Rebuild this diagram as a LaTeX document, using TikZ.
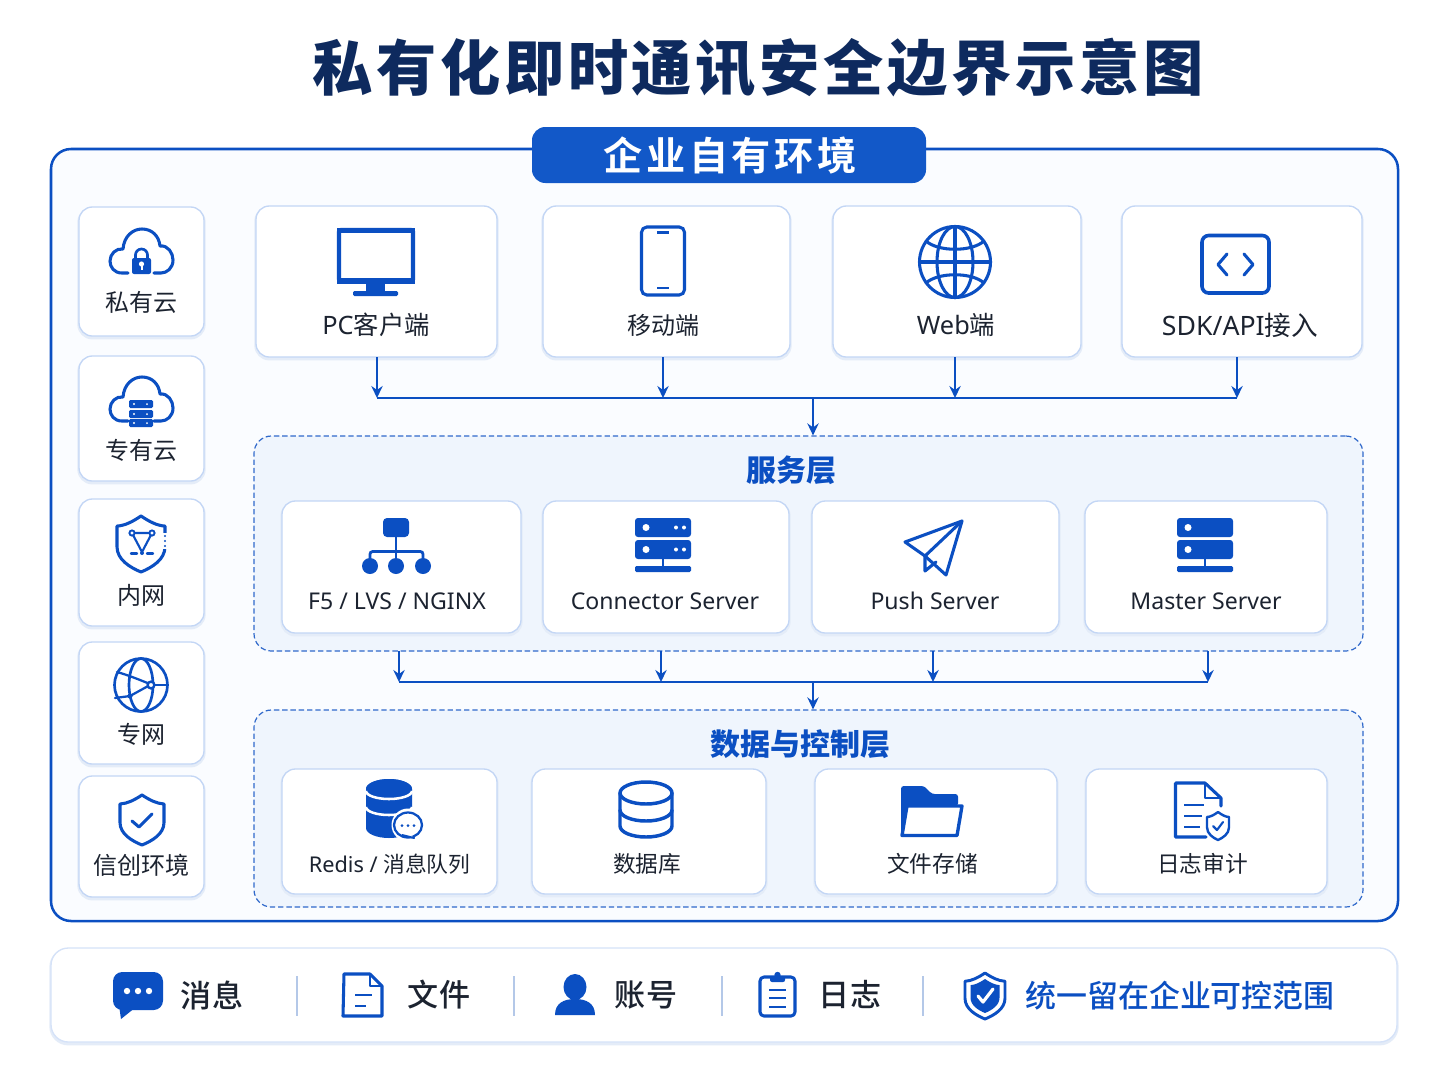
\documentclass[tikz,border=0pt]{standalone}
\usepackage{fontspec}
\usetikzlibrary{arrows.meta}
\setmainfont{Noto Sans CJK SC}
\newfontfamily\lat{Noto Sans}
\newfontfamily\medf{Noto Sans CJK SC Medium}
\newfontfamily\titlefont[LetterSpace=6]{Noto Sans CJK SC Black}
\newfontfamily\tabfont[LetterSpace=9]{Noto Sans CJK SC Bold}
\definecolor{mainblue}{HTML}{0B4FC2}
\definecolor{navy}{HTML}{0E2A5E}
\definecolor{tabblue}{HTML}{1258C8}
\definecolor{cardline}{HTML}{C3D6F5}
\definecolor{cardshade}{HTML}{E4ECF8}
\definecolor{layerfill}{HTML}{EFF5FD}
\definecolor{outerfill}{HTML}{FAFCFF}
\definecolor{inktext}{HTML}{1C2330}
\definecolor{sepline}{HTML}{B4C8E8}
\tikzset{
  card/.style={draw=cardline,fill=white,rounded corners=10pt,line width=1pt,inner sep=0pt,
    preaction={draw=cardshade,line width=2.5pt,transform canvas={yshift=-1.3pt}}},
  outerbox/.style={draw=mainblue,fill=outerfill,rounded corners=15pt,line width=1.9pt,inner sep=0pt},
  layerbox/.style={draw=mainblue!85,fill=layerfill,dashed,dash pattern=on 4pt off 2.2pt,rounded corners=13pt,line width=.9pt,inner sep=0pt},
  tabbox/.style={fill=tabblue,rounded corners=10pt,inner sep=0pt},
  barbox/.style={draw=cardline!70,fill=white,rounded corners=13pt,line width=1pt,inner sep=0pt,
    preaction={draw=cardshade,line width=2.5pt,transform canvas={yshift=-1.3pt}}},
  lab/.style={text=inktext,font=\fontsize{18}{22}\selectfont,inner sep=0pt},
  tlab/.style={text=inktext,font=\fontsize{19}{22}\selectfont,inner sep=0pt},
  slab/.style={text=inktext,font=\fontsize{17.3}{20}\selectfont,inner sep=0pt},
  dlab/.style={text=inktext,font=\fontsize{17}{20}\selectfont,inner sep=0pt},
  llab/.style={text=inktext,font=\medf\fontsize{23.3}{26}\selectfont,inner sep=0pt},
  head/.style={text=mainblue,font=\bfseries\fontsize{22.5}{26}\selectfont,inner sep=0pt},
  wire/.style={draw=mainblue,line width=1.5pt},
  arr/.style={wire,-{Stealth[length=9pt,width=8.5pt,inset=3pt]}},
  ic/.style={draw=mainblue,line width=2.3pt,line join=round,line cap=round},
  icf/.style={fill=mainblue,draw=none},
  icw/.style={fill=white,draw=none},
  sep/.style={draw=sepline,line width=1pt},
}
\newcommand\boxn[6]{%
  \pgfmathsetmacro\bcx{(#3+#5)/2}\pgfmathsetmacro\bcy{(#4+#6)/2}%
  \pgfmathsetmacro\bw{(#5-#3)*0.75}\pgfmathsetmacro\bh{(#6-#4)*0.75}%
  \node[#2,minimum width=\bw pt,minimum height=\bh pt] (#1) at (\bcx,\bcy) {};}
% shield: top centre x,y, half width, height, style
\newcommand\shield[5]{%
  \begin{scope}[shift={(#1,#2)},xscale=#3,yscale=#4]
  \path[#5] (0,0) .. controls (-.35,.1) and (-.65,.17) .. (-1,.18) -- (-1,.55)
    .. controls (-1,.78) and (-.45,.92) .. (0,1)
    .. controls (.45,.92) and (1,.78) .. (1,.55) -- (1,.18)
    .. controls (.65,.17) and (.35,.1) .. (0,0) -- cycle;
  \end{scope}}
\newcommand\cloudic[1]{%
  \begin{scope}[shift={(0,#1)}]
  \draw[ic] (128,273) -- (122,273) .. controls (114,273) and (110,267) .. (110,261)
    .. controls (110,254) and (116,248) .. (123,249)
    .. controls (124,236) and (133,229) .. (142,229)
    .. controls (152,229) and (159,236) .. (160,246)
    .. controls (168,245) and (173,253) .. (173,260)
    .. controls (173,268) and (167,273) .. (161,273) -- (154,273);
  \end{scope}}
\newcommand\serverstack[2]{%
  \begin{scope}[shift={(#1,#2)}]
  \fill[icf,rounded corners=2.2pt] (635,518) rectangle (691,537);
  \fill[icf,rounded corners=2.2pt] (635,540) rectangle (691,559);
  \draw[mainblue,line width=2.2pt] (663,559) -- (663,567);
  \fill[icf,rounded corners=1pt] (635,566) rectangle (691,572);
  \fill[icw] (646,527.5) circle (3.5);
  \fill[icw] (646,549.5) circle (3.5);
  \end{scope}}
\begin{document}
\begin{tikzpicture}[x=0.75pt,y=-0.75pt]
\useasboundingbox (0,0) rectangle (1448,1086);
\fill[white] (0,0) rectangle (1448,1086);

\node[inner sep=0pt,text=navy,font=\titlefont\fontsize{45.2}{50}\selectfont] (title) at (758,68) {私有化即时通讯安全边界示意图};

% outer frame and tab
\boxn{outer}{outerbox}{51}{149}{1398}{921}
\boxn{tab}{tabbox}{532}{127}{926}{183}
\node[inner sep=0pt,text=white,font=\tabfont\fontsize{29.4}{32}\selectfont] (tabt) at (730,155) {企业自有环境};

% left column
\boxn{l1}{card}{79}{207}{204}{336}
\boxn{l2}{card}{79}{356}{204}{481}
\boxn{l3}{card}{79}{499}{204}{626}
\boxn{l4}{card}{79}{642}{204}{764}
\boxn{l5}{card}{79}{776}{204}{897}
\node[lab] (l1t) at (141,302) {私有云};
\node[lab] (l2t) at (141,450) {专有云};
\node[lab] (l3t) at (141,595) {内网};
\node[lab] (l4t) at (141,734) {专网};
\node[lab] (l5t) at (141,865) {信创环境};

% private cloud
\cloudic{0}
\fill[icf,rounded corners=1.5pt] (132,258) rectangle (151,274);
\draw[mainblue,line width=2pt] (135.5,258) -- (135.5,255) arc (180:360:6) -- (147.5,258);
\fill[icw] (141.5,264) circle (2.6);
\fill[icw] (140.5,264) rectangle (142.5,270);
% dedicated cloud
\cloudic{148}
\foreach \yy in {400,410,419}{
  \fill[icf,rounded corners=1pt] (129,\yy) rectangle (153,\yy+8);
  \fill[icw] (134,\yy+4) circle (1.2);
  \fill[icw] (147,\yy+4) circle (1);
}
% intranet shield
\shield{141}{516}{24}{56}{ic}
\fill[outerfill!40!white] (162,533) rectangle (168,549);
\fill[mainblue] (165,536) circle (1.1) (165,541) circle (1.1) (165,546) circle (1.1);
\draw[mainblue,line width=1.6pt,line join=round] (132,533) -- (152,533) -- (142,552) -- cycle;
\fill[icw] (132,533) circle (2.6) (152,533) circle (2.6);
\draw[mainblue,line width=1.4pt] (132,533) circle (2.6) (152,533) circle (2.6);
\fill[icf] (142,553) circle (2);
\draw[mainblue,line width=1.8pt,line cap=round] (131,553.5) -- (137,553.5) (147,553.5) -- (153,553.5);
% private network globe
\draw[ic,line width=2pt] (141,685) circle (26.5);
\draw[ic,line width=2pt] (141,685) ellipse (12 and 26.5);
\draw[ic,line width=1.7pt] (117,672) .. controls (128,675) and (140,680) .. (150,684);
\draw[ic,line width=1.7pt] (150,685) -- (167,685);
\draw[ic,line width=1.7pt] (150,685) -- (130,696) -- (115,698);
\fill[white] (151,685) circle (3.4);
\draw[mainblue,line width=1.8pt] (151,685) circle (3.4);
\fill[mainblue] (130,696) circle (2.6);
% xinchuang shield
\shield{142}{795}{22}{50}{ic}
\draw[ic] (132,821) -- (139,827) -- (152,814);

% top row
\boxn{pc}{card}{256}{206}{497}{357}
\boxn{mob}{card}{543}{206}{790}{357}
\boxn{web}{card}{833}{206}{1081}{357}
\boxn{sdk}{card}{1122}{206}{1362}{357}
\node[tlab] (pct) at (376,325) {{\lat PC}客户端};
\node[lab] (mobt) at (663,325) {移动端};
\node[tlab] (webt) at (956,325) {{\lat Web}端};
\node[tlab,font=\fontsize{20}{22}\selectfont] (sdkt) at (1240,325) {{\lat SDK/API}接入};
% monitor
\draw[mainblue,line width=3.2pt,rounded corners=1.5pt] (339,230) rectangle (413,281);
\fill[icf] (337,228) rectangle (415,233);
\fill[icf] (337,278) rectangle (415,284);
\fill[icf] (366,284) rectangle (385,292);
\fill[icf,rounded corners=1pt] (353,291) rectangle (398,296);
% phone
\draw[mainblue,line width=2.3pt,rounded corners=4pt] (641.5,227) rectangle (684.5,295);
\draw[mainblue,line width=2pt] (657,232.5) -- (669,232.5);
\draw[mainblue,line width=2pt] (657,288) -- (669,288);
% web globe
\draw[ic] (955,262) circle (35.5);
\draw[ic] (955,262) ellipse (18 and 35.5);
\draw[ic] (955,226.5) -- (955,297.5);
\draw[ic] (919.5,262) -- (990.5,262);
\draw[ic] (926,241) .. controls (938,252) and (972,252) .. (984,241);
\draw[ic] (926,283) .. controls (938,272) and (972,272) .. (984,283);
% sdk
\draw[mainblue,line width=2.7pt,rounded corners=5pt] (1202,235.5) rectangle (1269,293);
\draw[ic] (1227,254) -- (1218,264.5) -- (1227,275);
\draw[ic] (1244,254) -- (1253,264.5) -- (1244,275);

% service layer
\boxn{svc}{layerbox}{254}{436}{1363}{651}
\node[head] (svct) at (791,470) {服务层};
\boxn{f5}{card}{282}{501}{521}{633}
\boxn{conn}{card}{543}{501}{789}{633}
\boxn{push}{card}{812}{501}{1059}{633}
\boxn{mast}{card}{1085}{501}{1327}{633}
\node[slab] (f5t) at (397,601) {\lat F5 / LVS / NGINX};
\node[slab] (connt) at (665,601) {\lat Connector Server};
\node[slab] (pusht) at (935,601) {\lat Push Server};
\node[slab] (mastt) at (1206,601) {\lat Master Server};
% tree
\fill[icf,rounded corners=3pt] (383,518) rectangle (409,537);
\draw[mainblue,line width=2.1pt,rounded corners=2pt] (370,560) -- (370,551.5) -- (423,551.5) -- (423,560);
\draw[mainblue,line width=2.1pt] (396,537) -- (396,560);
\fill[icf] (370,566) circle (8) (396,566) circle (8) (423,566) circle (8);
% connector server
\serverstack{0}{0}
\fill[icw] (676,527.5) circle (2) (684,527.5) circle (2) (676,549.5) circle (2) (684,549.5) circle (2);
% plane
\draw[ic] (962,521) -- (905,542) -- (925,556) -- (946,575) -- cycle;
\draw[ic] (925,556) -- (962,521);
\draw[ic] (925,556) -- (925,571) -- (936,562);
% master server
\serverstack{542}{0}

% data layer
\boxn{dat}{layerbox}{254}{710}{1363}{907}
\node[head] (datt) at (800,744) {数据与控制层};
\boxn{red}{card}{282}{769}{497}{894}
\boxn{db}{card}{532}{769}{766}{894}
\boxn{file}{card}{815}{769}{1057}{894}
\boxn{logb}{card}{1086}{769}{1327}{894}
\node[dlab,font=\fontsize{16.3}{20}\selectfont] (redt) at (389.5,864) {{\lat Redis / }消息队列};
\node[dlab] (dbt) at (647,864) {数据库};
\node[dlab] (filet) at (932.5,864) {文件存储};
\node[dlab] (logt) at (1202.5,864) {日志审计};
% redis stack
\fill[icf] (366,789) arc (180:360:23 and 10) -- (412,828) arc (0:180:23 and 10) -- cycle;
\fill[icf] (366,789) arc (180:0:23 and -10) -- cycle;
\draw[white,line width=1.9pt] (366,791) arc (180:0:23 and 8);
\draw[white,line width=1.9pt] (366,807) arc (180:0:23 and 8);
\fill[icw] (408,825) circle (16.5);
\draw[mainblue,line width=1.7pt,fill=white] (408,825) ellipse (14 and 12.5);
\draw[mainblue,line width=1.5pt,fill=white,line join=round] (402,835) -- (414,838) -- (413,836);
\fill[mainblue] (402,825.5) circle (1.5) (408,825.5) circle (1.5) (414,825.5) circle (1.5);
% database
\draw[ic,line width=2.6pt] (646,793) ellipse (26 and 11);
\draw[ic,line width=2.6pt] (620,793) -- (620,826) arc (180:0:26 and 11) -- (672,793);
\draw[ic,line width=2.6pt] (620,810) arc (180:0:26 and 11);
% folder
\fill[icf,rounded corners=2pt] (901,836) -- (901,786) -- (924,786) -- (932,794) -- (958,794) -- (958,806) -- (909,806) -- cycle;
\draw[mainblue,line width=2.5pt,fill=white,line join=round] (907,806) -- (962,806) -- (957,835.5) -- (902,835.5) -- cycle;
% document
\draw[ic] (1221,806) -- (1221,798) -- (1205,783) -- (1175.5,783) -- (1175.5,837) -- (1206,837);
\draw[ic,line width=1.7pt] (1205,783) -- (1205,798) -- (1221,798);
\draw[mainblue,line width=2pt] (1184,805) -- (1204,805) (1184,816) -- (1202,816) (1184,827) -- (1200,827);
\shield{1218}{812}{11}{28}{ic,fill=white,line width=1.8pt}
\draw[ic,line width=1.6pt] (1213,826) -- (1217,830) -- (1223,822);

% connectors top
\coordinate (bus1) at (813,398);
\coordinate (pcb) at (377,357);
\coordinate (mobb) at (663,357);
\coordinate (webb) at (955,357);
\coordinate (sdkb) at (1237,357);
\draw[wire] (pcb |- bus1) -- (sdkb |- bus1);
\draw[arr] (pcb) -- (pcb |- bus1);
\draw[arr] (mobb) -- (mobb |- bus1);
\draw[arr] (webb) -- (webb |- bus1);
\draw[arr] (sdkb) -- (sdkb |- bus1);
\draw[arr] (bus1) -- (bus1 |- svc.north);
% connectors middle
\coordinate (bus2) at (813,682);
\coordinate (s1) at (399,651);
\coordinate (s2) at (661,651);
\coordinate (s3) at (933,651);
\coordinate (s4) at (1208,651);
\draw[wire] (s1 |- bus2) -- (s4 |- bus2);
\draw[arr] (s1) -- (s1 |- bus2);
\draw[arr] (s2) -- (s2 |- bus2);
\draw[arr] (s3) -- (s3 |- bus2);
\draw[arr] (s4) -- (s4 |- bus2);
\draw[arr] (bus2) -- (bus2 |- dat.north);

% bottom bar
\boxn{bar}{barbox}{51}{948}{1397}{1042}
\draw[sep] (297,976) -- (297,1016);
\draw[sep] (514,976) -- (514,1016);
\draw[sep] (722,976) -- (722,1016);
\draw[sep] (923,976) -- (923,1016);
\node[llab] (b1) at (212,995) {消息};
\node[llab] (b2) at (439,995) {文件};
\node[llab] (b3) at (646,995) {账号};
\node[llab] (b4) at (850,995) {日志};
\node[head,font=\medf\fontsize{23.2}{26}\selectfont] (b5) at (1180,996) {统一留在企业可控范围};
% chat
\fill[icf,rounded corners=7pt] (113,972) rectangle (163,1010);
\fill[icf] (119,1005) -- (121,1019) -- (136,1007) -- cycle;
\fill[icw] (127,991) circle (3.2) (138,991) circle (3.2) (149,991) circle (3.2);
% file
\draw[ic,line width=2.3pt] (370,974) -- (344,974) -- (343,1016) -- (382,1016) -- (382,986) -- (370,974);
\draw[ic,line width=2pt] (370,974) -- (370,986) -- (382,986);
\draw[mainblue,line width=2pt] (355,995) -- (372,995) (355,1006) -- (366,1006);
% person
\fill[icf] (575,987) ellipse (11.5 and 13);
\fill[icf] (555,1015) .. controls (555,1003) and (564,999) .. (575,999) .. controls (586,999) and (595,1003) .. (595,1015) -- cycle;
% clipboard
\draw[ic,line width=2.3pt,rounded corners=3pt] (760,977) rectangle (795,1016);
\fill[icf,rounded corners=1.5pt] (770,976) rectangle (785,982);
\fill[icf] (777.5,975) circle (3.2);
\draw[mainblue,line width=2pt] (769,990) -- (786,990) (769,998) -- (786,998) (769,1007) -- (786,1007);
% shield
\shield{985}{973}{20}{46}{ic,line width=2.2pt}
\shield{985}{979}{14.5}{34}{icf}
\draw[ic,draw=white,line width=2.4pt] (978,996) -- (983,1002) -- (993,989);
\end{tikzpicture}
\end{document}
